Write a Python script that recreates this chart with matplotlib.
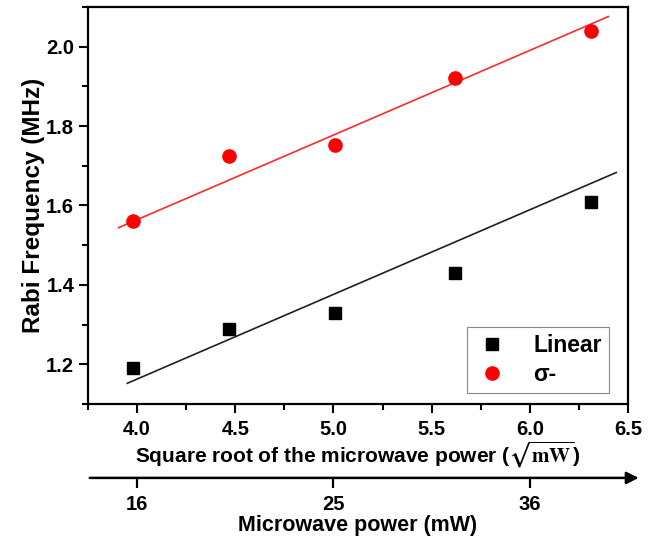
import matplotlib.pyplot as plt
import numpy as np

plt.rcParams['font.family'] = ['Liberation Sans', 'DejaVu Sans']
plt.rcParams['font.weight'] = 'bold'
plt.rcParams['mathtext.fontset'] = 'stix'

# data
sqrt_power = [3.98, 4.47, 5.01, 5.62, 6.31]
rabi_linear = [1.19, 1.29, 1.33, 1.43, 1.61]
rabi_sigma = [1.56, 1.725, 1.752, 1.92, 2.04]

# fitted lines (end points)
fit_linear_x = [3.95, 6.44]
fit_linear_y = [1.152, 1.683]
fit_sigma_x = [3.905, 6.40]
fit_sigma_y = [1.544, 2.076]

power_ticks = [16, 25, 36]

fig = plt.figure(figsize=(6.67, 5.4), dpi=100)
ax = fig.add_axes([0.132, 0.252, 0.8095, 0.735])

ax.plot(fit_linear_x, fit_linear_y, color='#202020', lw=1.2)
ax.plot(fit_sigma_x, fit_sigma_y, color='#ff2a2a', lw=1.2)
ax.plot(sqrt_power, rabi_linear, 's', color='black', ms=8, label='Linear')
ax.plot(sqrt_power, rabi_sigma, 'o', color='red', ms=9.5, label='σ-')

ax.set_xlim(3.75, 6.5)
ax.set_ylim(1.1, 2.1)
ax.set_xticks(np.arange(4.0, 6.51, 0.5))
ax.set_xticks(np.arange(3.75, 6.51, 0.25), minor=True)
ax.set_yticks([1.2, 1.4, 1.6, 1.8, 2.0])
ax.set_yticks(np.arange(1.1, 2.11, 0.1), minor=True)
ax.xaxis.set_major_formatter(plt.FormatStrFormatter('%.1f'))
ax.yaxis.set_major_formatter(plt.FormatStrFormatter('%.1f'))
ax.tick_params(which='major', length=6.5, width=1.5, labelsize=14.5, direction='out')
ax.tick_params(axis='x', which='major', pad=5)
ax.tick_params(which='minor', length=4, width=1.5, direction='out')
for s in ax.spines.values():
    s.set_linewidth(1.6)

ax.set_ylabel('Rabi Frequency (MHz)', fontsize=17.5, fontweight='bold', labelpad=1)
ax.set_xlabel('Square root of the microwave power (' + r'$\sqrt{\mathbf{mW}}$' + ')',
              fontsize=15, fontweight='bold', labelpad=1)

leg = ax.legend(loc='lower right', bbox_to_anchor=(0.973, 0.017), fontsize=16.5,
                fancybox=False, edgecolor='#888888', framealpha=1,
                handlelength=1.6, handletextpad=1.0, borderpad=0.3, labelspacing=0.25,
                borderaxespad=0.2)
leg.get_frame().set_linewidth(0.8)

# second scale: microwave power
ax2 = fig.add_axes([0.132, 0.115, 0.8095, 0.001])
ax2.set_xlim(ax.get_xlim())
ax2.set_yticks([])
for k in ['top', 'left', 'right', 'bottom']:
    ax2.spines[k].set_visible(False)
ax2.set_xticks(np.sqrt(power_ticks))
ax2.set_xticklabels([str(p) for p in power_ticks])
ax2.tick_params(axis='x', length=7, width=1.6, labelsize=14.5, direction='out', pad=5)
ax2.annotate('', xy=(1.025, 0), xytext=(-0.002, 0), xycoords='axes fraction',
             arrowprops=dict(arrowstyle='-|>', lw=1.8, color='black', mutation_scale=18))
ax2.set_xlabel('Microwave power (mW)', fontsize=15.5, fontweight='bold', labelpad=1)

fig.savefig('out.png', dpi=100)
